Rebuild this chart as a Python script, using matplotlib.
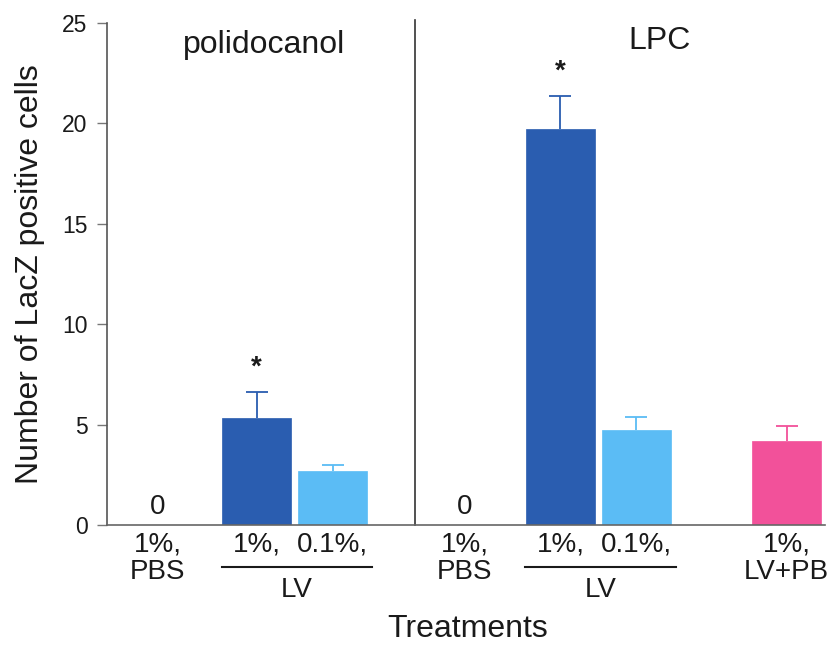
import matplotlib.pyplot as plt
import numpy as np

plt.rcParams['font.family'] = ['Liberation Sans', 'DejaVu Sans']

# bars: polidocanol (PBS, LV 1%, LV 0.1%) then LPC (PBS, LV 1%, LV 0.1%, LV+PB 1%)
values = [0, 5.33, 2.69, 0, 19.72, 4.73, 4.18]
errors = [0, 1.29, 0.30, 0, 1.65, 0.65, 0.75]
colors = ['#2a5db0', '#2a5db0', '#5bbcf5', '#2a5db0', '#2a5db0', '#5bbcf5', '#f2519a']
top_labels = ['1%,', '1%,', '0.1%,', '1%,', '1%,', '0.1%,', '1%,']
zero_bars = [0, 3]
starred = [1, 4]
groups = ['polidocanol', 'LPC']

xpos = np.array([0.67, 1.97, 2.97, 4.71, 5.97, 6.97, 8.95])
txt = '#1a1a1a'

fig = plt.figure(figsize=(8.33, 6.47), dpi=100)
ax = fig.add_axes([0.1285, 0.1886, 0.8615, 0.7759])

for i in range(len(values)):
    if values[i] == 0:
        continue
    ax.bar(xpos[i], values[i], width=0.91, color=colors[i], edgecolor=colors[i], linewidth=0.5)
    eb = ax.errorbar(xpos[i], values[i], yerr=[[0], [errors[i]]], fmt='none',
                     ecolor=colors[i], elinewidth=1.3, capsize=8, capthick=1.3)
    # only keep the upper cap
    eb[1][0].set_visible(False)

for i in zero_bars:
    ax.text(xpos[i], 0.9, '0', ha='center', va='center', fontsize=20, color=txt)

for i in starred:
    ax.text(xpos[i], values[i] + errors[i] + 0.55, '*', ha='center', va='bottom',
            fontsize=20, fontweight='bold', color=txt)

ax.set_xlim(0, 9.45)
ax.set_ylim(0, 25)
ax.set_yticks([0, 5, 10, 15, 20, 25])
ax.set_xticks([])
ax.tick_params(axis='y', labelsize=16.5, length=7, width=1, color='#777777',
               labelcolor=txt, pad=7)

ax.spines['top'].set_visible(False)
ax.spines['right'].set_visible(False)
ax.spines['left'].set_color('#555555')
ax.spines['bottom'].set_color('#666666')
ax.spines['left'].set_linewidth(1.2)
ax.spines['bottom'].set_linewidth(1.2)

# divider between the two detergents
ax.axvline(4.05, ymin=0, ymax=1.006, color='#333333', linewidth=1.2, clip_on=False)

ax.text(2.07, 23.9, groups[0], ha='center', va='center', fontsize=23, color=txt)
ax.text(7.28, 24.1, groups[1], ha='center', va='center', fontsize=23, color=txt)

trans = ax.get_xaxis_transform()
for i in range(len(values)):
    ax.text(xpos[i], -0.038, top_labels[i], transform=trans, ha='center', va='center',
            fontsize=20, color=txt)
ax.text(xpos[0], -0.094, 'PBS', transform=trans, ha='center', va='center', fontsize=20, color=txt)
ax.text(xpos[3], -0.094, 'PBS', transform=trans, ha='center', va='center', fontsize=20, color=txt)
ax.text(xpos[6], -0.094, 'LV+PB', transform=trans, ha='center', va='center', fontsize=20, color=txt)

# brackets grouping the LV doses
for a, b in [(1, 2), (4, 5)]:
    left = xpos[a] - 0.46
    right = xpos[b] + 0.52
    ax.plot([left, right], [-0.084, -0.084], transform=trans, color=txt,
            linewidth=1.5, clip_on=False)
    ax.text((left + right) / 2, -0.13, 'LV', transform=trans, ha='center', va='center',
            fontsize=20, color=txt)

ax.set_ylabel('Number of LacZ positive cells', fontsize=23, color=txt, labelpad=12)
fig.text(0.561, 0.028, 'Treatments', ha='center', va='center', fontsize=23, color=txt)

fig.savefig('out.png', dpi=100)
